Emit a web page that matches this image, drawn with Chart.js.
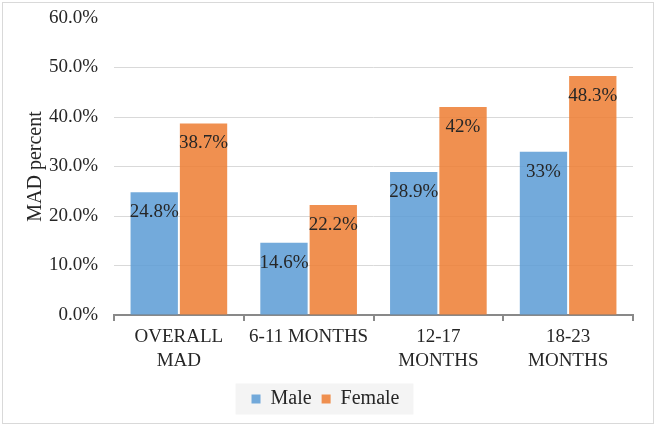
<!DOCTYPE html>
<html>
<head>
<meta charset="utf-8">
<script src="https://cdn.jsdelivr.net/npm/chart.js@4/dist/chart.umd.min.js"></script>
<style>
  html, body { margin: 0; padding: 0; background: #fff; }
  #wrap { width: 656px; height: 426px; }
</style>
</head>
<body>
<div id="wrap"><canvas id="madChart" width="656" height="426"></canvas></div>
<script>
// Data
const categories = [["OVERALL", "MAD"], "6-11 MONTHS", ["12-17", "MONTHS"], ["18-23", "MONTHS"]];
const maleValues = [24.8, 14.6, 28.9, 33];
const femaleValues = [38.7, 22.2, 42, 48.3];
const yTicks = [0, 10, 20, 30, 40, 50, 60];

const FONT = "'Liberation Serif', 'Times New Roman', serif";
const TEXT = "#262626";

// white background, outer border and legend panel
const framePlugin = {
  id: "frame",
  afterLayout(chart) {
    // nudge the legend to sit where the original one does
    if (chart.legend) {
      chart.legend.left += 9;
      chart.legend.right += 9;
    }
  },
  beforeDraw(chart) {
    const ctx = chart.ctx;
    ctx.save();
    ctx.fillStyle = "#fff";
    ctx.fillRect(0, 0, chart.width, chart.height);
    ctx.strokeStyle = "#d9d9d9";
    ctx.lineWidth = 1;
    ctx.strokeRect(2.5, 2.5, chart.width - 5, chart.height - 5);
    const boxes = chart.legend && chart.legend.legendHitBoxes;
    if (boxes && boxes.length) {
      const first = boxes[0];
      const last = boxes[boxes.length - 1];
      const cy = first.top + first.height / 2;
      ctx.fillStyle = "#f4f4f4";
      ctx.fillRect(first.left - 16, cy - 15.5, last.left + last.width - first.left + 30, 31);
    }
    ctx.restore();
  },
};

// value labels inside the bar tops
const valueLabels = {
  id: "valueLabels",
  afterDatasetsDraw(chart) {
    const ctx = chart.ctx;
    ctx.save();
    ctx.font = "19px " + FONT;
    ctx.fillStyle = TEXT;
    ctx.textAlign = "center";
    ctx.textBaseline = "middle";
    chart.data.datasets.forEach((ds, i) => {
      chart.getDatasetMeta(i).data.forEach((bar, j) => {
        ctx.fillText(ds.data[j] + "%", bar.x, bar.y + 20);
      });
    });
    ctx.restore();
  },
};

const ctx = document.getElementById("madChart").getContext("2d");
new Chart(ctx, {
  type: "bar",
  data: {
    labels: categories,
    datasets: [
      {
        label: "Male",
        data: maleValues,
        backgroundColor: "rgba(91, 155, 213, 0.85)",
        borderWidth: 0,
      },
      {
        label: "Female",
        data: femaleValues,
        backgroundColor: "rgba(237, 125, 49, 0.85)",
        borderWidth: 0,
      },
    ],
  },
  options: {
    responsive: false,
    animation: false,
    devicePixelRatio: 1,
    categoryPercentage: 0.76,
    barPercentage: 0.96,
    layout: { padding: { top: 0, right: 23, left: 0, bottom: 7 } },
    plugins: {
      legend: {
        position: "bottom",
        labels: {
          font: { family: FONT, size: 20 },
          color: TEXT,
          boxWidth: 9,
          boxHeight: 9,
          padding: 10,
        },
      },
      tooltip: { enabled: false },
    },
    scales: {
      x: {
        grid: {
          display: true,
          drawOnChartArea: false,
          offset: true,
          tickLength: 6,
          color: "#898989",
          lineWidth: 2,
        },
        border: { display: true, color: "#898989", width: 2 },
        ticks: {
          font: { family: FONT, size: 19, lineHeight: 1.25 },
          color: TEXT,
          padding: 4,
          maxRotation: 0,
          autoSkip: false,
        },
        afterFit: (s) => { s.height = 64; },
      },
      y: {
        min: 0,
        max: 60,
        afterBuildTicks: (s) => { s.ticks = yTicks.map((v) => ({ value: v })); },
        grid: {
          drawTicks: false,
          color: (c) => (c.tick && c.tick.value === 60 ? "rgba(0,0,0,0)" : "#d9d9d9"),
          lineWidth: 1,
        },
        border: { display: false },
        ticks: {
          font: { family: FONT, size: 19 },
          color: TEXT,
          padding: 16,
          callback: (v) => v.toFixed(1) + "%",
        },
        title: {
          display: true,
          text: "MAD percent",
          font: { family: FONT, size: 20 },
          color: TEXT,
          padding: { top: 24, bottom: 0 },
        },
        afterFit: (s) => {
          s.width = 114;
          s.paddingTop = 18;
          s.paddingBottom = 10;
        },
      },
    },
  },
  plugins: [framePlugin, valueLabels],
});
</script>
</body>
</html>
